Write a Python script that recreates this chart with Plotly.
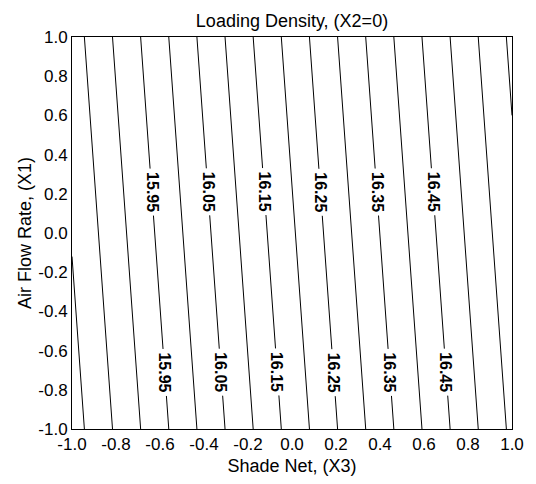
import plotly.graph_objects as go

# Data
x3_values = [-1.0, 1.0]            # Shade Net, (X3)
x1_values = [-1.0, 1.0]            # Air Flow Rate, (X1)
z_at_x1_low = [15.778, 16.560]     # z at X1=-1 for X3=-1, 1
z_at_x1_high = [15.828, 16.610]    # z at X1=+1 for X3=-1, 1
z_grid = [z_at_x1_low, z_at_x1_high]

labeled_levels = [15.95, 16.05, 16.15, 16.25, 16.35, 16.45]
label_rows_x1 = [0.21, -0.71]      # where the labels sit along the lines

tick_vals = [-1.0, -0.8, -0.6, -0.4, -0.2, 0.0, 0.2, 0.4, 0.6, 0.8, 1.0]
tick_text = ["-1.0", "-0.8", "-0.6", "-0.4", "-0.2", "0.0", "0.2", "0.4", "0.6", "0.8", "1.0"]

FONT = "Liberation Sans, Arial, sans-serif"

fig = go.Figure()
fig.add_trace(go.Contour(
    x=x3_values, y=x1_values, z=z_grid,
    autocontour=False,
    contours=dict(coloring="none", showlabels=False,
                  start=15.80, end=16.60, size=0.05),
    line=dict(color="black", width=1),
    showscale=False, hoverinfo="skip",
))


def x3_on_level(level, x1):
    t = (x1 - x1_values[0]) / (x1_values[1] - x1_values[0])
    zl = z_at_x1_low[0] + t * (z_at_x1_high[0] - z_at_x1_low[0])
    zr = z_at_x1_low[1] + t * (z_at_x1_high[1] - z_at_x1_low[1])
    return x3_values[0] + (level - zl) / (zr - zl) * (x3_values[1] - x3_values[0])


annotations = []
for lvl in labeled_levels:
    for x1 in label_rows_x1:
        annotations.append(dict(
            x=x3_on_level(lvl, x1), y=x1, xref="x", yref="y",
            text=f"{lvl:.2f}", showarrow=False, textangle=90,
            bgcolor="white", borderpad=3,
            font=dict(family=FONT, size=16, color="black", weight="bold"),
        ))

axis_common = dict(
    range=[-1, 1], tickvals=tick_vals, ticktext=tick_text,
    showgrid=False, zeroline=False, ticks="",
    showline=True, linecolor="black", linewidth=1, mirror=True,
    tickfont=dict(family=FONT, size=17, color="black"),
)

fig.update_layout(
    width=536, height=484,
    margin=dict(l=72, r=14, t=37, b=50),
    paper_bgcolor="white", plot_bgcolor="white",
    title=dict(text="Loading Density, (X2=0)", x=0.5, xref="paper", xanchor="center",
               y=0.958, yanchor="middle",
               font=dict(family=FONT, size=18, color="black")),
    xaxis=dict(title=dict(text="Shade Net, (X3)", standoff=5,
                          font=dict(family=FONT, size=18, color="black")),
               **axis_common),
    yaxis=dict(title=dict(text="Air Flow Rate, (X1)", standoff=2,
                          font=dict(family=FONT, size=18, color="black")),
               **axis_common),
    annotations=annotations,
    showlegend=False,
)

fig.write_html("out.html")
